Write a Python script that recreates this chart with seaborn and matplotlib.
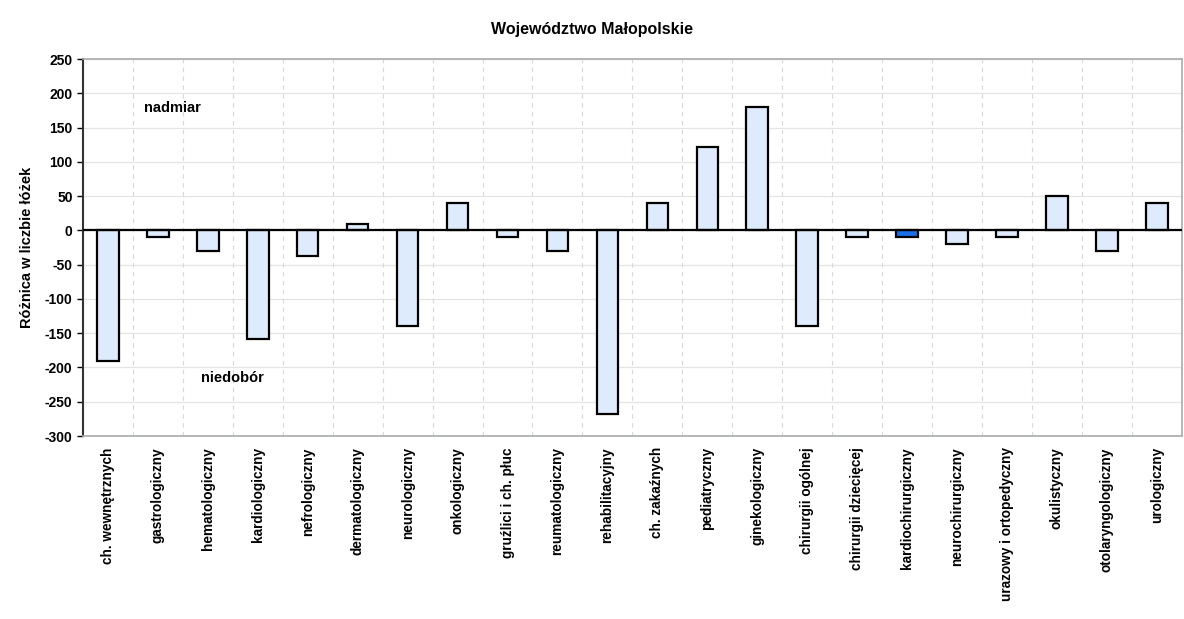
import seaborn as sns
import matplotlib.pyplot as plt
import pandas as pd
from matplotlib import font_manager

# data
oddzialy = ["ch. wewnętrznych", "gastrologiczny", "hematologiczny", "kardiologiczny",
            "nefrologiczny", "dermatologiczny", "neurologiczny", "onkologiczny",
            "gruźlici i ch. płuc", "reumatologiczny", "rehabilitacyjny", "ch. zakaźnych",
            "pediatryczny", "ginekologiczny", "chirurgii ogólnej", "chirurgii dziecięcej",
            "kardiochirurgiczny", "neurochirurgiczny", "urazowy i ortopedyczny",
            "okulistyczny", "otolaryngologiczny", "urologiczny"]
roznica = [-190, -10, -30, -158, -38, 10, -140, 40, -10, -30, -268, 40,
           122, 180, -140, -10, -10, -20, -10, 50, -30, 40]
y_ticks = [250, 200, 150, 100, 50, 0, -50, -100, -150, -200, -250, -300]
highlight = "kardiochirurgiczny"

df = pd.DataFrame({"oddzial": oddzialy, "roznica": roznica})

sns.set_style("white")
names = {f.name for f in font_manager.fontManager.ttflist}
fam = "Liberation Sans Narrow" if "Liberation Sans Narrow" in names else "Liberation Sans"
plt.rcParams["font.family"] = [fam, "DejaVu Sans"]
plt.rcParams["font.weight"] = "bold"
for key in ["text.color", "axes.labelcolor", "xtick.color", "ytick.color"]:
    plt.rcParams[key] = "black"

fig = plt.figure(figsize=(11.84, 6.19), dpi=100)
ax = fig.add_axes([0.0701, 0.2956, 0.928, 0.609])

palette = {o: ("#1a6fe8" if o == highlight else "#deebfc") for o in oddzialy}
sns.barplot(data=df, x="oddzial", y="roznica", hue="oddzial", palette=palette,
            legend=False, width=0.43, edgecolor="black", linewidth=1.6,
            saturation=1, ax=ax)

ax.set_ylim(-300, 250)
ax.set_xlim(-0.5, len(oddzialy) - 0.5)
ax.set_yticks(y_ticks)
ax.set_yticklabels([str(v) for v in y_ticks], fontsize=10, fontweight="bold")
ax.set_xticks(range(len(oddzialy)))
ax.set_xticklabels(oddzialy, rotation=90, fontsize=9.8, fontweight="bold")
ax.tick_params(axis="x", length=0, pad=8)
ax.tick_params(axis="y", length=4, width=1, direction="out", left=True)

# grid: solid horizontal, dashed vertical between categories
for v in y_ticks:
    ax.axhline(v, color="#e4e4e0", lw=0.9, zorder=0)
for k in range(1, len(oddzialy)):
    ax.axvline(k - 0.5, color="#d4d8e0", lw=0.8, ls=(0, (4, 4)), zorder=0)
ax.axhline(0, color="black", lw=1.6, zorder=3)

for side in ["top", "right", "bottom"]:
    ax.spines[side].set_color("#a8aca8")
    ax.spines[side].set_linewidth(1.2)
ax.spines["left"].set_color("#333333")
ax.spines["left"].set_linewidth(1.5)

ax.set_xlabel("")
ax.set_ylabel("Różnica w liczbie łóżek", fontsize=10.5, fontweight="bold", labelpad=8)
fig.text(0.5, 0.952, "Województwo Małopolskie", ha="center", va="center",
         fontsize=11.5, fontweight="bold")

ax.text(0.72, 178, "nadmiar", ha="left", va="center", fontsize=10.5, fontweight="bold")
ax.text(2.5, -215, "niedobór", ha="center", va="center", fontsize=10.5, fontweight="bold")

fig.savefig("out.png", dpi=100)
